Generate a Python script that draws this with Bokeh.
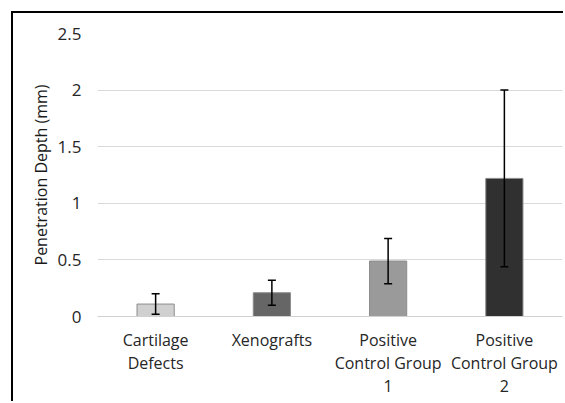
from bokeh.plotting import figure
from bokeh.models import ColumnDataSource, FactorRange, Range1d, FixedTicker, Whisker, TeeHead
from bokeh.embed import file_html
from bokeh.resources import INLINE

# ---- data ----
categories = ["Cartilage\nDefects", "Xenografts", "Positive\nControl Group\n1", "Positive\nControl Group\n2"]
means = [0.11, 0.21, 0.49, 1.22]
errors = [0.09, 0.11, 0.20, 0.78]
colors = ["#d0d0d0", "#666666", "#9a9a9a", "#303030"]
y_ticks = [0, 0.5, 1, 1.5, 2, 2.5]
y_tick_labels = ["0", "0.5", "1", "1.5", "2", "2.5"]
y_title = "Penetration Depth (mm)"

upper = [m + e for m, e in zip(means, errors)]
lower = [m - e for m, e in zip(means, errors)]
source = ColumnDataSource(dict(cat=categories, mean=means, upper=upper, lower=lower, color=colors))

FONT = "Open Sans"
W, H = 552, 390
ML, MR, MT, MB = 84, 3, 20, 87

p = figure(
    x_range=FactorRange(*categories),
    y_range=Range1d(0, 2.5),
    width=W, height=H,
    output_backend="svg", toolbar_location=None,
    min_border_left=ML, min_border_right=MR, min_border_top=MT, min_border_bottom=MB,
    styles={"margin-left": "13px", "margin-top": "13px", "box-shadow": "-2px -2px 0 0 #000000"},
)
p.outline_line_color = None
p.background_fill_color = "white"
p.border_fill_color = "white"

p.vbar(x="cat", top="mean", width=0.32, source=source,
       fill_color="color", line_color="#8c8c8c", line_width=1)

p.add_layout(Whisker(base="cat", upper="upper", lower="lower", source=source, level="annotation",
                     line_color="black", line_width=1.5,
                     upper_head=TeeHead(size=8, line_color="black", line_width=1.5),
                     lower_head=TeeHead(size=8, line_color="black", line_width=1.5)))

# grid
p.xgrid.grid_line_color = None
p.ygrid.grid_line_color = "#d9d9d9"
p.ygrid.grid_line_width = 1.2
p.ygrid.ticker = FixedTicker(ticks=y_ticks)

# y axis
p.yaxis.ticker = FixedTicker(ticks=y_ticks)
p.yaxis.major_label_overrides = {t: l for t, l in zip(y_ticks, y_tick_labels)}
p.yaxis.axis_line_color = None
p.yaxis.major_tick_line_color = None
p.yaxis.minor_tick_line_color = None
p.yaxis.major_label_standoff = 10
p.yaxis.major_label_text_font = FONT
p.yaxis.major_label_text_font_size = "17px"
p.yaxis.major_label_text_color = "#262626"
p.yaxis.axis_label = y_title
p.yaxis.axis_label_text_font = FONT
p.yaxis.axis_label_text_font_size = "16px"
p.yaxis.axis_label_text_font_style = "normal"
p.yaxis.axis_label_text_color = "#1a1a1a"
p.yaxis.axis_label_standoff = 3

# x axis
p.xaxis.axis_line_color = "#d0d0d0"
p.xaxis.axis_line_width = 1.2
p.xaxis.major_tick_line_color = None
p.xaxis.minor_tick_line_color = None
p.xaxis.major_label_standoff = 6
p.xaxis.major_label_text_font = FONT
p.xaxis.major_label_text_font_size = "16px"
p.xaxis.major_label_text_color = "#262626"
p.xaxis.major_label_text_line_height = 1.05

open("out.html", "w").write(file_html(p, INLINE))
